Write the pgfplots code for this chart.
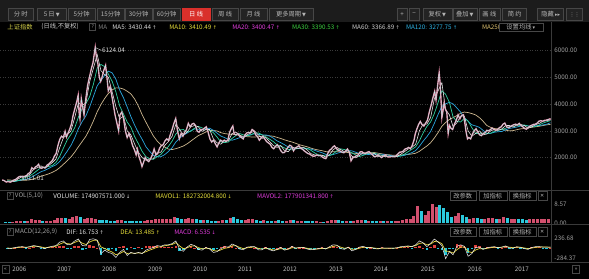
\documentclass[border=0pt]{standalone}
\usepackage{pgfplots}
\usepackage{pgfplotstable}
\pgfplotsset{compat=1.18}
\usepackage{fontspec}
\setmainfont{Noto Sans CJK SC}
\newfontfamily\sym{DejaVu Sans}

\definecolor{tbbg}{HTML}{1C1C1C}
\definecolor{btnbg}{HTML}{232323}
\definecolor{btnln}{HTML}{474747}
\definecolor{btntx}{HTML}{B4B4B4}
\definecolor{tbred}{HTML}{D9302B}
\definecolor{sepc}{HTML}{3A3A3A}
\definecolor{gridc}{HTML}{3A3A3A}
\definecolor{labc}{HTML}{A0A0A0}
\definecolor{pricepink}{HTML}{E68AA6}
\definecolor{pricecyan}{HTML}{B8F4F0}
\definecolor{maW}{HTML}{E4E4E4}
\definecolor{maG}{HTML}{2FCFA0}
\definecolor{maC}{HTML}{2AA6DE}
\definecolor{maT}{HTML}{CDB78F}
\definecolor{difc}{HTML}{EEEEEE}
\definecolor{deac}{HTML}{E6D63C}
\definecolor{hred}{HTML}{E0403C}
\definecolor{hcyan}{HTML}{22C4D8}
\definecolor{volred}{HTML}{D2506E}
\definecolor{volcyan}{HTML}{2CC8DC}
\definecolor{c5}{HTML}{DDDDDD}
\definecolor{c10}{HTML}{E6DE3A}
\definecolor{c20}{HTML}{E03CDC}
\definecolor{c30}{HTML}{3CD040}
\definecolor{c60}{HTML}{CFCFCF}
\definecolor{c120}{HTML}{2EB4E6}
\definecolor{c250}{HTML}{DCC070}
\definecolor{hdY}{HTML}{D6D24A}

\pgfplotstableread{
x y
2005.72 1160
2005.75 1150
2005.78 1120
2005.81 1085
2005.84 1100
2005.87 1095
2005.90 1080
2005.94 1120
2005.98 1160
2006.02 1180
2006.06 1240
2006.10 1290
2006.14 1300
2006.18 1270
2006.22 1300
2006.26 1320
2006.30 1400
2006.34 1440
2006.38 1620
2006.42 1560
2006.46 1650
2006.50 1690
2006.53 1750
2006.56 1620
2006.60 1600
2006.64 1640
2006.68 1620
2006.72 1720
2006.76 1760
2006.80 1830
2006.84 1900
2006.88 2050
2006.92 2150
2006.96 2450
2007.00 2680
2007.04 2800
2007.08 2750
2007.12 2980
2007.15 2770
2007.18 2900
2007.22 3050
2007.26 3250
2007.30 3600
2007.34 3850
2007.38 4100
2007.41 4330
2007.43 3700
2007.45 3450
2007.48 4200
2007.51 3900
2007.54 3600
2007.58 4200
2007.62 4700
2007.66 5000
2007.70 5300
2007.74 5550
2007.77 5900
2007.79 6124
2007.82 5700
2007.85 5500
2007.88 5000
2007.91 4850
2007.94 5000
2007.98 5260
2008.02 5450
2008.05 5000
2008.08 4500
2008.12 4650
2008.16 4300
2008.20 3900
2008.23 3600
2008.27 3300
2008.31 3000
2008.34 3600
2008.38 3700
2008.42 3450
2008.46 3000
2008.50 2750
2008.54 2900
2008.58 2700
2008.62 2450
2008.66 2300
2008.70 2100
2008.73 2300
2008.76 2050
2008.80 1850
2008.83 1664
2008.86 1800
2008.90 2000
2008.94 1900
2008.98 1850
2009.02 1950
2009.06 2100
2009.10 2320
2009.14 2100
2009.18 2150
2009.22 2350
2009.26 2450
2009.30 2480
2009.34 2620
2009.38 2700
2009.42 2640
2009.46 2860
2009.50 3050
2009.54 3280
2009.58 3460
2009.62 3000
2009.66 2700
2009.70 2900
2009.74 2800
2009.78 2950
2009.82 3050
2009.86 3280
2009.90 3150
2009.94 3250
2009.98 3280
2010.02 3200
2010.06 2980
2010.10 2950
2010.14 3050
2010.18 3050
2010.22 3100
2010.26 3150
2010.30 2950
2010.34 2700
2010.38 2580
2010.42 2650
2010.46 2520
2010.50 2400
2010.54 2550
2010.58 2650
2010.62 2600
2010.66 2650
2010.70 2600
2010.74 2660
2010.78 2950
2010.82 3100
2010.85 3180
2010.88 2880
2010.92 2850
2010.96 2900
2011.00 2800
2011.04 2750
2011.08 2700
2011.12 2850
2011.16 2920
2011.20 2940
2011.24 2920
2011.28 3050
2011.32 3000
2011.36 2850
2011.40 2780
2011.44 2650
2011.48 2730
2011.52 2800
2011.56 2700
2011.60 2600
2011.64 2550
2011.68 2500
2011.72 2380
2011.76 2330
2011.80 2420
2011.84 2480
2011.88 2380
2011.92 2250
2011.96 2180
2012.00 2190
2012.04 2300
2012.08 2390
2012.12 2460
2012.16 2420
2012.20 2250
2012.24 2360
2012.28 2400
2012.32 2440
2012.36 2350
2012.40 2310
2012.44 2250
2012.48 2200
2012.52 2150
2012.56 2130
2012.60 2080
2012.64 2050
2012.68 2060
2012.72 2100
2012.76 2070
2012.80 2080
2012.84 2020
2012.88 1980
2012.92 1960
2012.96 2150
2013.00 2270
2013.04 2320
2013.08 2400
2013.11 2440
2013.16 2330
2013.20 2270
2013.24 2240
2013.28 2200
2013.32 2180
2013.36 2250
2013.40 2320
2013.44 2200
2013.48 1880
2013.52 2000
2013.56 2020
2013.60 2070
2013.64 2100
2013.68 2210
2013.72 2220
2013.76 2170
2013.80 2150
2013.84 2200
2013.88 2220
2013.92 2150
2013.96 2100
2014.00 2030
2014.04 2050
2014.08 2100
2014.12 2050
2014.16 2000
2014.20 2060
2014.24 2100
2014.28 2040
2014.32 2020
2014.36 2030
2014.40 2050
2014.44 2030
2014.48 2060
2014.52 2130
2014.56 2200
2014.60 2210
2014.64 2240
2014.68 2320
2014.72 2340
2014.76 2380
2014.80 2330
2014.84 2450
2014.88 2650
2014.91 2900
2014.94 3050
2014.98 3230
2015.02 3350
2015.06 3230
2015.10 3180
2015.14 3290
2015.18 3400
2015.22 3700
2015.26 3950
2015.30 4230
2015.34 4480
2015.37 4150
2015.40 4600
2015.42 4900
2015.44 5178
2015.46 4800
2015.48 4200
2015.50 3500
2015.52 3700
2015.55 4050
2015.58 3800
2015.61 3700
2015.64 2900
2015.67 3200
2015.70 3100
2015.74 3050
2015.78 3250
2015.82 3400
2015.86 3600
2015.90 3450
2015.94 3580
2015.98 3600
2016.01 3300
2016.04 2950
2016.07 2700
2016.10 2750
2016.14 2700
2016.18 2880
2016.22 3000
2016.26 3080
2016.30 2950
2016.34 2850
2016.38 2820
2016.42 2900
2016.46 2930
2016.50 3020
2016.54 3000
2016.58 3050
2016.62 3100
2016.66 3050
2016.70 3020
2016.74 3050
2016.78 3120
2016.82 3150
2016.86 3250
2016.90 3290
2016.94 3150
2016.98 3120
2017.02 3150
2017.06 3200
2017.10 3230
2017.14 3250
2017.18 3220
2017.22 3280
2017.26 3200
2017.30 3150
2017.34 3090
2017.38 3060
2017.42 3120
2017.46 3180
2017.50 3210
2017.54 3240
2017.58 3250
2017.62 3290
2017.66 3360
2017.70 3380
2017.74 3360
2017.78 3390
2017.82 3400
2017.86 3420
2017.90 3445
2017.93 3440
}\price

\pgfplotstableread{
x a ma60 ma120 ma250
2005.833 1120 1137 1103 1170
2005.917 1090 1123 1100 1155
2006.000 1120 1110 1108 1145
2006.083 1210 1140 1138 1143
2006.167 1290 1207 1165 1147
2006.250 1290 1263 1187 1152
2006.333 1370 1317 1228 1166
2006.417 1560 1407 1307 1203
2006.500 1620 1517 1390 1249
2006.583 1690 1623 1470 1304
2006.667 1600 1637 1522 1343
2006.750 1700 1663 1590 1388
2006.833 1810 1703 1663 1446
2006.917 1950 1820 1728 1518
2007.000 2380 2047 1855 1623
2007.083 2750 2360 2032 1751
2007.167 2850 2660 2240 1881
2007.250 3000 2867 2457 2023
2007.333 3500 3117 2738 2201
2007.417 4050 3517 3088 2408
2007.500 3950 3833 3350 2603
2007.583 4050 4017 3567 2799
2007.667 4850 4283 3900 3070
2007.750 5350 4750 4292 3374
2007.833 5850 5350 4683 3711
2007.917 5250 5483 4883 3986
2008.000 5100 5400 5075 4213
2008.083 5000 5117 5233 4400
2008.167 4450 4850 5167 4533
2008.250 3900 4450 4925 4608
2008.333 3450 3933 4525 4604
2008.417 3550 3633 4242 4563
2008.500 3000 3333 3892 4483
2008.583 2850 3133 3533 4383
2008.667 2500 2783 3208 4188
2008.750 2200 2517 2925 3925
2008.833 2000 2233 2683 3604
2008.917 1900 2033 2408 3325
2009.000 1950 1950 2233 3063
2009.083 1950 1933 2083 2808
2009.167 2200 2033 2033 2621
2009.250 2200 2117 2033 2479
2009.333 2450 2283 2108 2396
2009.417 2600 2417 2225 2317
2009.500 2800 2617 2367 2300
2009.583 3250 2883 2583 2333
2009.667 3050 3033 2725 2379
2009.750 2850 3050 2833 2433
2009.833 2950 2950 2917 2513
2009.917 3150 2983 3008 2617
2010.000 3200 3100 3075 2721
2010.083 3150 3167 3058 2821
2010.167 2980 3110 3047 2886
2010.250 3050 3060 3080 2957
2010.333 3050 3027 3097 3007
2010.417 2700 2933 3022 3015
2010.500 2550 2767 2913 2994
2010.583 2500 2583 2805 2932
2010.667 2630 2560 2747 2897
2010.750 2620 2583 2675 2878
2010.833 2900 2717 2650 2873
2010.917 2950 2823 2692 2857
2011.000 2850 2900 2742 2828
2011.083 2750 2850 2783 2794
2011.167 2850 2817 2820 2783
2011.250 2930 2843 2872 2773
2011.333 2990 2923 2887 2768
2011.417 2850 2923 2870 2781
2011.500 2720 2853 2848 2795
2011.583 2750 2773 2848 2816
2011.667 2600 2690 2807 2813
2011.750 2450 2600 2727 2799
2011.833 2380 2477 2625 2756
2011.917 2450 2427 2558 2714
2012.000 2250 2360 2480 2664
2012.083 2220 2307 2392 2620
2012.167 2390 2287 2357 2582
2012.250 2350 2320 2340 2533
2012.333 2350 2363 2335 2480
2012.417 2390 2363 2325 2442
2012.500 2290 2343 2332 2406
2012.583 2150 2277 2320 2356
2012.667 2100 2180 2272 2314
2012.750 2070 2107 2225 2283
2012.833 2090 2087 2182 2258
2012.917 2020 2060 2120 2223
2013.000 2100 2070 2088 2210
2013.083 2300 2140 2113 2217
2013.167 2380 2260 2160 2216
2013.250 2300 2327 2198 2212
2013.333 2220 2300 2220 2201
2013.417 2250 2257 2258 2189
2013.500 2050 2173 2250 2169
2013.583 1990 2097 2198 2156
2013.667 2080 2040 2148 2154
2013.750 2180 2083 2128 2163
2013.833 2170 2143 2120 2170
2013.917 2170 2173 2107 2183
2014.000 2150 2163 2123 2187
2014.083 2030 2117 2130 2164
2014.167 2070 2083 2128 2138
2014.250 2030 2043 2103 2116
2014.333 2060 2053 2085 2103
2014.417 2030 2040 2062 2084
2014.500 2040 2043 2043 2083
2014.583 2120 2063 2058 2094
2014.667 2220 2127 2083 2106
2014.750 2320 2220 2132 2118
2014.833 2380 2307 2185 2135
2014.917 2500 2400 2263 2163
2015.000 3000 2627 2423 2233
2015.083 3250 2917 2612 2335
2015.167 3250 3167 2783 2433
2015.250 3500 3333 2980 2556
2015.333 4200 3650 3283 2734
2015.417 4500 4067 3617 2940
2015.500 4800 4500 3917 3170
2015.583 3800 4367 4008 3310
2015.667 3600 4067 4067 3425
2015.750 3150 3517 4008 3494
2015.833 3300 3350 3858 3571
2015.917 3550 3333 3700 3658
2016.000 3550 3467 3492 3704
2016.083 3000 3367 3358 3683
2016.167 2800 3117 3225 3646
2016.250 2900 2900 3183 3596
2016.333 3000 2900 3133 3496
2016.417 2850 2917 3017 3358
2016.500 2880 2910 2905 3198
2016.583 3000 2910 2905 3132
2016.667 3050 2977 2947 3086
2016.750 3020 3023 2967 3075
2016.833 3070 3047 2978 3056
2016.917 3200 3097 3037 3027
2017.000 3200 3157 3090 2998
2017.083 3140 3180 3113 3009
2017.167 3220 3187 3142 3044
2017.250 3240 3200 3178 3073
2017.333 3200 3220 3200 3089
2017.417 3100 3180 3183 3110
2017.500 3150 3150 3175 3133
2017.583 3230 3160 3190 3152
2017.667 3280 3220 3200 3171
2017.750 3360 3290 3220 3199
2017.833 3380 3340 3250 3225
2017.917 3410 3383 3302 3243
}\mas

\pgfplotstableread{
x up dn
2005.792 0 0.45
2005.875 0 0.40
2005.958 0.50 0
2006.042 0.6 0
2006.125 0.9 0
2006.208 0 0.7
2006.292 1.0 0
2006.375 1.6 0
2006.458 1.4 0
2006.542 1.3 0
2006.625 0 0.9
2006.708 1.0 0
2006.792 1.0 0
2006.875 1.4 0
2006.958 2.0 0
2007.042 2.3 0
2007.125 0 2.2
2007.208 1.9 0
2007.292 2.6 0
2007.375 3.2 0
2007.458 0 2.5
2007.542 1.7 0
2007.625 2.1 0
2007.708 2.3 0
2007.792 1.8 0
2007.875 0 1.2
2007.958 0 1.3
2008.042 0 1.4
2008.125 0 0.9
2008.208 0 1.0
2008.292 1.2 0
2008.375 1.3 0
2008.458 0 0.8
2008.542 0 0.9
2008.625 0 0.7
2008.708 0 0.9
2008.792 0 0.8
2008.875 1.0 0
2008.958 1.1 0
2009.042 1.1 0
2009.125 1.8 0
2009.208 1.6 0
2009.292 1.9 0
2009.375 1.6 0
2009.458 1.8 0
2009.542 2.8 0
2009.625 0 2.2
2009.708 0 1.6
2009.792 1.6 0
2009.875 2.3 0
2009.958 1.8 0
2010.042 0 1.6
2010.125 0 1.2
2010.208 1.2 0
2010.292 0 1.3
2010.375 0 1.0
2010.458 0 0.8
2010.542 1.0 0
2010.625 1.4 0
2010.708 0 1.2
2010.792 2.0 0
2010.875 0 2.4
2010.958 0 1.5
2011.042 0 1.1
2011.125 1.3 0
2011.208 1.5 0
2011.292 1.5 0
2011.375 0 1.1
2011.458 0 0.9
2011.542 1.1 0
2011.625 0 1.0
2011.708 0 0.8
2011.792 0.9 0
2011.875 0 1.1
2011.958 0 0.7
2012.042 0.6 0
2012.125 1.1 0
2012.208 0 1.2
2012.292 0.9 0
2012.375 1.0 0
2012.458 0 0.7
2012.542 0 0.6
2012.625 0 0.6
2012.708 0.6 0
2012.792 0.5 0
2012.875 0 0.5
2012.958 0.9 0
2013.042 1.1 0
2013.125 1.3 0
2013.208 0 1.2
2013.292 0 0.9
2013.375 1.0 0
2013.458 0 0.9
2013.542 0.9 0
2013.625 1.1 0
2013.708 1.4 0
2013.792 0 1.1
2013.875 1.0 0
2013.958 0 0.8
2014.042 0 0.7
2014.125 0.9 0
2014.208 0 0.8
2014.292 0.8 0
2014.375 0 0.7
2014.458 0.7 0
2014.542 1.0 0
2014.625 1.4 0
2014.708 1.7 0
2014.792 1.5 0
2014.875 3.0 0
2014.958 7.5 0
2015.042 0 5.5
2015.125 3.5 0
2015.208 5.5 0
2015.292 8.57 0
2015.375 7.0 0
2015.458 0 8.2
2015.542 0 6.5
2015.625 0 4.8
2015.708 0 2.6
2015.792 3.0 0
2015.875 4.2 0
2015.958 0 3.5
2016.042 0 2.8
2016.125 1.6 0
2016.208 2.3 0
2016.292 0 2.1
2016.375 0 1.5
2016.458 1.7 0
2016.542 2.0 0
2016.625 2.1 0
2016.708 0 1.5
2016.792 1.6 0
2016.875 2.5 0
2016.958 0 2.0
2017.042 1.5 0
2017.125 1.8 0
2017.208 0 1.7
2017.292 0 1.5
2017.375 0 1.4
2017.458 1.5 0
2017.542 1.8 0
2017.625 1.9 0
2017.708 1.9 0
2017.792 1.7 0
2017.875 1.75 0
}\vol

\pgfplotstableread{
x dif dea hp hn
2005.833 -10 -5 0 -5
2005.917 -15 -10 0 -5
2006.000 5 -3 8 0
2006.083 25 11 14 0
2006.167 30 20 10 0
2006.250 10 15 0 -5
2006.333 30 22 8 0
2006.417 60 41 19 0
2006.500 40 40 0 0
2006.583 10 25 0 -15
2006.667 -20 2 0 -22
2006.750 20 11 9 0
2006.833 40 25 15 0
2006.917 60 42 18 0
2007.000 150 96 54 0
2007.083 180 138 42 0
2007.167 80 109 0 -29
2007.250 90 100 0 -10
2007.333 180 140 40 0
2007.417 230 185 45 0
2007.500 60 122 0 -62
2007.583 50 86 0 -36
2007.667 220 153 67 0
2007.750 236 195 41 0
2007.833 200 197 3 0
2007.917 -150 24 0 -174
2008.000 -60 -18 0 -42
2008.083 -120 -69 0 -51
2008.167 -150 -110 0 -40
2008.250 -250 -180 0 -70
2008.333 -120 -150 30 0
2008.417 -40 -95 55 0
2008.500 -200 -148 0 -52
2008.583 -120 -134 14 0
2008.667 -150 -142 0 -8
2008.750 -120 -131 11 0
2008.833 -150 -140 0 -10
2008.917 -60 -100 40 0
2009.000 -20 -60 40 0
2009.083 10 -25 35 0
2009.167 60 18 42 0
2009.250 40 29 11 0
2009.333 80 55 25 0
2009.417 80 68 12 0
2009.500 110 89 21 0
2009.583 180 135 45 0
2009.667 -40 48 0 -88
2009.750 -90 -21 0 -69
2009.833 20 0 20 0
2009.917 90 45 45 0
2010.000 60 52 8 0
2010.083 -40 6 0 -46
2010.167 -60 -27 0 -33
2010.250 10 -9 19 0
2010.333 -30 -20 0 -10
2010.417 -120 -70 0 -50
2010.500 -100 -85 0 -15
2010.583 -20 -53 33 0
2010.667 30 -12 42 0
2010.750 20 4 16 0
2010.833 100 52 48 0
2010.917 60 56 4 0
2011.000 -30 13 0 -43
2011.083 -50 -19 0 -31
2011.167 20 0 20 0
2011.250 30 15 15 0
2011.333 30 22 8 0
2011.417 -50 -14 0 -36
2011.500 -50 -32 0 -18
2011.583 10 -11 21 0
2011.667 -50 -31 0 -19
2011.750 -80 -56 0 -24
2011.833 -40 -48 8 0
2011.917 10 -19 29 0
2012.000 -60 -40 0 -20
2012.083 -30 -35 5 0
2012.167 40 3 37 0
2012.250 -10 -4 0 -6
2012.333 10 3 7 0
2012.417 15 9 6 0
2012.500 -30 -11 0 -19
2012.583 -50 -31 0 -19
2012.667 -40 -36 0 -4
2012.750 -20 -28 8 0
2012.833 0 -14 14 0
2012.917 -30 -22 0 -8
2013.000 30 4 26 0
2013.083 80 42 38 0
2013.167 70 56 14 0
2013.250 -20 18 0 -38
2013.333 -40 -11 0 -29
2013.417 20 5 15 0
2013.500 -80 -38 0 -42
2013.583 -40 -39 0 -1
2013.667 20 -10 30 0
2013.750 40 15 25 0
2013.833 0 8 0 -8
2013.917 10 9 1 0
2014.000 -20 -6 0 -14
2014.083 -30 -18 0 -12
2014.167 0 -9 9 0
2014.250 -10 -10 0 0
2014.333 -5 -8 3 0
2014.417 -10 -9 0 -1
2014.500 0 -5 5 0
2014.583 30 13 17 0
2014.667 40 27 13 0
2014.750 50 39 11 0
2014.833 30 35 0 -5
2014.917 80 58 22 0
2015.000 180 119 61 0
2015.083 130 125 5 0
2015.167 30 78 0 -48
2015.250 120 99 21 0
2015.333 230 165 65 0
2015.417 150 158 0 -8
2015.500 60 109 0 -49
2015.583 -284 -88 0 -196
2015.667 -100 -94 0 -6
2015.750 -180 -137 0 -43
2015.833 40 -49 89 0
2015.917 80 16 64 0
2016.000 40 28 12 0
2016.083 -220 -96 0 -124
2016.167 -150 -123 0 -27
2016.250 10 -57 67 0
2016.333 20 -19 39 0
2016.417 -40 -30 0 -10
2016.500 0 -15 15 0
2016.583 20 3 17 0
2016.667 30 17 13 0
2016.750 0 9 0 -9
2016.833 20 15 5 0
2016.917 50 33 17 0
2017.000 0 17 0 -17
2017.083 -10 4 0 -14
2017.167 30 17 13 0
2017.250 10 14 0 -4
2017.333 -20 -3 0 -17
2017.417 -40 -22 0 -18
2017.500 10 -6 16 0
2017.583 30 12 18 0
2017.667 30 21 9 0
2017.750 20 21 0 -1
2017.833 20 21 0 -1
2017.917 17 13 6.5 0
}\macd

\pgfplotsset{
  base/.style={
    scale only axis, width=552bp, anchor=south west,
    xmin=2005.678, xmax=2017.944,
    axis line style={draw=none}, major tick length=0pt, minor tick length=0pt,
    xtick=\empty, yticklabel pos=right,
    yticklabel style={text=labc, anchor=west, inner sep=0pt, xshift=2.5bp,
      font=\fontsize{6.3}{7}\selectfont},
    clip=true,
  }
}

\newcommand{\tb}[3]{\filldraw[fill=btnbg,draw=btnln,line width=0.6bp] (#1,258.5) rectangle (#2,270.5);
  \node[text=btntx] at ({(#1+#2)/2},264.5) {#3};}
\newcommand{\pb}[4]{\filldraw[fill=black,draw=btnln,line width=0.5bp] (#1,#3) rectangle (#2,{#3+9});
  \node[text=btntx] at ({(#1+#2)/2},{#3+4.5}) {#4};}
\newcommand{\qb}[1]{\draw[btnln,line width=0.5bp] (7,{#1-3.5}) rectangle (12.5,{#1+3.5});
  \node[text=labc,font=\fontsize{5}{5}\selectfont] at (9.75,#1) {?};}

\begin{document}
\begin{tikzpicture}[x=1bp,y=1bp,every node/.style={inner sep=0pt,font=\fontsize{6.3}{7}\selectfont}]
\fill[black] (0,0) rectangle (589,279);
\fill[tbbg] (0,256.5) rectangle (589,279);
% toolbar
\tb{8}{33}{分\ 时}
\tb{37}{66}{5\,日\,{\sym\tiny ▼}}
\tb{68}{95}{5分钟}
\tb{97}{124}{15分钟}
\tb{125}{152}{30分钟}
\tb{153}{180}{60分钟}
\filldraw[fill=tbred,draw=tbred] (182,258.5) rectangle (210,270.5);
\node[text=white] at (196,264.5) {日\ 线};
\tb{212}{238}{周\ 线}
\tb{240}{267}{月\ 线}
\tb{269}{313}{更多周期\,{\sym\tiny ▼}}
\tb{397}{407.5}{+}
\tb{409}{419.5}{−}
\tb{423}{452}{复权\,{\sym\tiny ▼}}
\tb{453}{477}{叠加\,{\sym\tiny ▼}}
\tb{479}{500}{画\ 线}
\tb{503}{527}{简\ 约}
\tb{538}{564}{隐藏\,{\sym\tiny ▸▸}}
\tb{567}{583}{{\sym\tiny ⋮⋮}}

% main price panel
\begin{axis}[base, at={(0bp,89bp)}, height=169bp, ymin=794, ymax=7110,
  ytick={2000,3000,4000,5000,6000}, ymajorgrids,
  grid style={gridc, dash pattern=on 1bp off 1.5bp, line width=0.4bp},
  /pgf/number format/fixed, /pgf/number format/fixed zerofill,
  /pgf/number format/precision=2, /pgf/number format/1000 sep={},
  /pgf/number format/assume math mode=true]
\addplot[maT, line width=0.7bp] table[x=x,y=ma250]{\mas};
\addplot[maC, line width=0.7bp] table[x=x,y=ma120]{\mas};
\addplot[maG, line width=0.7bp] table[x=x,y=ma60]{\mas};
\addplot[maW, line width=0.6bp] table[x=x,y=a]{\mas};
\addplot[pricepink, line width=1.4bp] table[x=x,y=y]{\price};
\addplot[pricecyan, line width=0.35bp] table[x=x,y=y]{\price};
\draw[white!85!black, line width=0.4bp] (axis cs:2007.80,6110) -- (axis cs:2007.93,6010);
\node[anchor=west, text=white!88!black] at (axis cs:2007.94,6000) {6124.04};
\node[anchor=west, text=white!88!black] at (axis cs:2006.14,1240) {1011.01};
\end{axis}

% volume panel
\begin{axis}[base, at={(0bp,54bp)}, height=24bp, ymin=-0.90, ymax=9.92,
  ytick={0,8.57}, yticklabels={0.00,8.57}]
\addplot[ycomb, volred, line width=3bp] table[x=x,y=up]{\vol};
\addplot[ycomb, volcyan, line width=3bp] table[x=x,y=dn]{\vol};
\end{axis}

% MACD panel
\begin{axis}[base, at={(0bp,16bp)}, height=27bp, ymin=-388.5, ymax=314.8,
  ytick={-284.37,236.68}, yticklabels={-284.37,236.68}]
\addplot[ycomb, hred, line width=2.6bp] table[x=x,y=hp]{\macd};
\addplot[ycomb, hcyan, line width=2.6bp] table[x=x,y=hn]{\macd};
\addplot[deac, line width=0.7bp] table[x=x,y=dea]{\macd};
\addplot[difc, line width=0.5bp] table[x=x,y=dif]{\macd};
\end{axis}

% separators
\draw[sepc, line width=0.6bp] (0,89) -- (589,89);
\draw[sepc, line width=0.6bp] (0,54) -- (589,54);
\draw[sepc, line width=0.6bp] (0,16) -- (589,16);
\draw[sepc, line width=0.6bp] (552,16) -- (552,256.5);

% main header
\node[anchor=west, text=hdY] at (7,252) {上证指数};
\node[anchor=west, text=white!80!black] at (41,252) {(日线,不复权)};
\draw[btnln,line width=0.5bp] (89.5,248.5) rectangle (95.5,255.5);
\node[text=labc,font=\fontsize{5}{5}\selectfont] at (92.5,252) {?};
\node[anchor=west, text=gray] at (98,252) {MA};
\node[anchor=west, text=c5] at (112,252) {MA5: 3430.44 {\sym\tiny ↑}};
\node[anchor=west, text=c10] at (169,252) {MA10: 3410.49 {\sym\tiny ↑}};
\node[anchor=west, text=c20] at (232,252) {MA20: 3400.47 {\sym\tiny ↑}};
\node[anchor=west, text=c30] at (292,252) {MA30: 3390.53 {\sym\tiny ↑}};
\node[anchor=west, text=c60] at (352,252) {MA60: 3366.89 {\sym\tiny ↑}};
\node[anchor=west, text=c120] at (406,252) {MA120: 3277.75 {\sym\tiny ↑}};
\node[anchor=west, text=c250] at (482,252) {MA250};
\filldraw[fill=black,draw=btnln,line width=0.5bp] (499,247.5) rectangle (543,256);
\node[text=btntx] at (521,251.8) {设置均线\,{\sym\tiny ▾}};

% volume header
\qb{83}
\node[anchor=west, text=labc] at (14.5,83) {VOL(5,10)};
\node[anchor=west, text=white!90!black] at (53,83) {VOLUME: 174907571.000 {\sym\tiny ↓}};
\node[anchor=west, text=c10] at (155,83) {MAVOL1: 182732004.800 {\sym\tiny ↓}};
\node[anchor=west, text=c20] at (257,83) {MAVOL2: 177901341.800 {\sym\tiny ↑}};
\pb{450}{476}{78.5}{改参数}
\pb{479}{507}{78.5}{加指标}
\pb{509}{536}{78.5}{换指标}
\pb{538}{547}{78.5}{{\sym\tiny ✕}}

% MACD header
\qb{47}
\node[anchor=west, text=labc] at (14.5,47) {MACD(12,26,9)};
\node[anchor=west, text=white!90!black] at (66,47) {DIF: 16.753 {\sym\tiny ↑}};
\node[anchor=west, text=c10] at (120,47) {DEA: 13.485 {\sym\tiny ↑}};
\node[anchor=west, text=c20] at (174,47) {MACD: 6.535 {\sym\tiny ↓}};
\pb{450}{476}{42.5}{改参数}
\pb{479}{507}{42.5}{加指标}
\pb{509}{536}{42.5}{换指标}
\pb{538}{547}{42.5}{{\sym\tiny ✕}}

% date bar
\foreach \xx/\yy in {19/2006,64/2007,109/2008,155/2009,200/2010,245/2011,290/2012,336/2013,381/2014,428/2015,475/2016,522/2017}
  \node[text=white!75!black] at (\xx,9.5) {\yy};
\filldraw[fill=black,draw=btnln,line width=0.5bp] (1.5,5.5) rectangle (8.5,13.5);
\node[text=labc] at (5,9.5) {{\sym\tiny «}};
\filldraw[fill=black,draw=btnln,line width=0.5bp] (573,5.5) rectangle (580,13.5);
\node[text=labc] at (576.5,9.5) {{\sym\tiny »}};
\end{tikzpicture}
\end{document}
